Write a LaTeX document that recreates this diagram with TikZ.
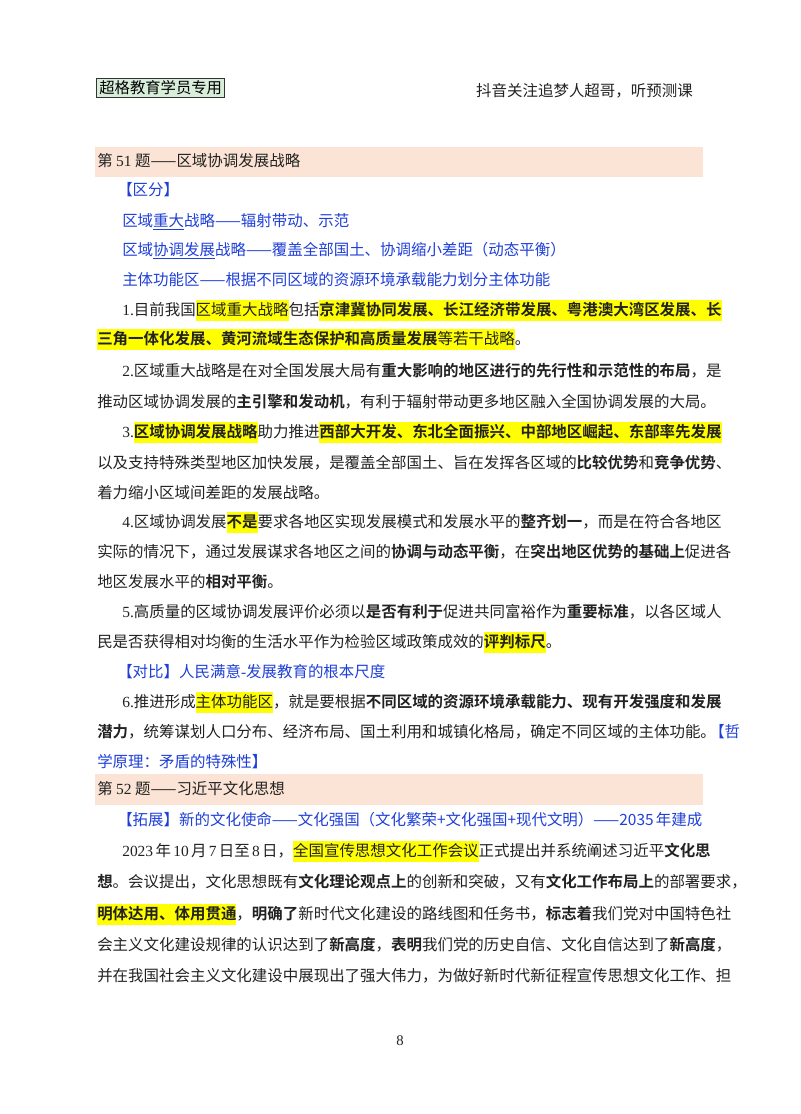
\documentclass[tikz,border=0pt]{standalone}
\usepackage{fontspec}
\setmainfont{Noto Sans CJK SC}[BoldFont={Noto Sans CJK SC Bold}]
\newfontfamily\lat{Liberation Serif}
\XeTeXlinebreaklocale "zh"
\XeTeXlinebreakskip=0pt plus 3pt minus 1pt
\definecolor{hly}{HTML}{FFFF00}
\definecolor{bl}{HTML}{1F3FD8}
\definecolor{pinkbar}{HTML}{FBE4D5}
\definecolor{greenbox}{HTML}{D8EEDB}
\definecolor{txt}{HTML}{222222}
\newcommand{\hl}[1]{\begingroup\fboxsep=0pt\colorbox{hly}{\vrule height 11pt depth 4.5pt width 0pt #1}\endgroup}
\newcommand{\fl}[2]{\hbox to #1pt{#2}}
\tikzset{
  ln/.style={anchor=base west,inner sep=0pt,font=\fontsize{11.6pt}{14pt}\selectfont,text=txt},
  bln/.style={ln,text=bl},
  bar/.style={fill=pinkbar,draw=none}
}
\begin{document}
\begin{tikzpicture}[x=0.75pt,y=-0.75pt]
\useasboundingbox[fill=white] (0,0) rectangle (800,1114);
% header
\node[draw=black!80,line width=1pt,fill=greenbox,inner sep=2pt,anchor=west,font=\fontsize{11.5pt}{13pt}\selectfont] (tag) at (96,88) {超格教育学员专用};
\node[ln,anchor=base east] (ad) at (693,96) {抖音关注追梦人超哥，听预测课};
% section 51
\fill[bar] (95,147) rectangle (703,177);
\node[ln] (h1) at (97,166) {第 {\lat 51} 题——区域协调发展战略};
\node[bln] (qf) at (117,195) {【区分】};
\node[bln] (b1) at (122,226) {区域\underline{重大}战略——辐射带动、示范};
\node[bln] (b2) at (122,255) {区域\underline{协调发展}战略——覆盖全部国土、协调缩小差距（动态平衡）};
\node[bln] (b3) at (122,285) {主体功能区——根据不同区域的资源环境承载能力划分主体功能};
\node[ln] (l1a) at (122,315) {\fl{435.75}{{\lat 1.}目前我国\hl{区域重大战略}包括\hl{\textbf{京津冀协同发展、长江经济带发展、粤港澳大湾区发展、长}}}};
\node[ln] (l1b) at (97,344) {\hl{\textbf{三角一体化发展、黄河流域生态保护和高质量发展}等若干战略}。};
\node[ln] (l2a) at (122,376) {\fl{435.75}{{\lat 2.}区域重大战略是在对全国发展大局有\textbf{重大影响的地区进行的先行性和示范性的布局}，是}};
\node[ln] (l2b) at (97,407) {推动区域协调发展的\textbf{主引擎和发动机}，有利于辐射带动更多地区融入全国协调发展的大局。};
\node[ln] (l3a) at (122,437) {\fl{435.75}{{\lat 3.}\hl{\textbf{区域协调发展战略}}助力推进\hl{\textbf{西部大开发、东北全面振兴、中部地区崛起、东部率先发展}}}};
\node[ln] (l3b) at (97,468) {\fl{454.5}{以及支持特殊类型地区加快发展，是覆盖全部国土、旨在发挥各区域的\textbf{比较优势}和\textbf{竞争优势}、}};
\node[ln] (l3c) at (97,498) {着力缩小区域间差距的发展战略。};
\node[ln] (l4a) at (122,527) {\fl{435.75}{{\lat 4.}区域协调发展\hl{\textbf{不是}}要求各地区实现发展模式和发展水平的\textbf{整齐划一}，而是在符合各地区}};
\node[ln] (l4b) at (97,557) {\fl{454.5}{实际的情况下，通过发展谋求各地区之间的\textbf{协调与动态平衡}，在\textbf{突出地区优势的基础上}促进各}};
\node[ln] (l4c) at (97,587) {地区发展水平的\textbf{相对平衡}。};
\node[ln] (l5a) at (122,617) {\fl{435.75}{{\lat 5.}高质量的区域协调发展评价必须以\textbf{是否有利于}促进共同富裕作为\textbf{重要标准}，以各区域人}};
\node[ln] (l5b) at (97,647) {民是否获得相对均衡的生活水平作为检验区域政策成效的\hl{\textbf{评判标尺}}。};
\node[bln] (db) at (117,677) {【对比】人民满意{\lat -}发展教育的根本尺度};
\node[ln] (l6a) at (122,707) {\fl{435.75}{{\lat 6.}推进形成\hl{主体功能区}，就是要根据\textbf{不同区域的资源环境承载能力、现有开发强度和发展}}};
\node[ln] (l6b) at (97,737) {\fl{454.5}{\textbf{潜力}，统筹谋划人口分布、经济布局、国土利用和城镇化格局，确定不同区域的主体功能。\hspace{-5pt}\textcolor{bl}{【哲}}};
\node[bln] (l6c) at (97,767) {学原理：矛盾的特殊性】};
% section 52
\fill[bar] (95,774) rectangle (703,805);
\node[ln] (h2) at (97,794) {第 {\lat 52} 题——习近平文化思想};
\node[bln] (tz) at (117,825) {\fl{435}{【拓展】新的文化使命——文化强国（文化繁荣+文化强国+现代文明）——2035 年建成}};
\node[ln] (p1) at (122,856) {\fl{435.75}{{\lat 2023} 年 {\lat 10} 月 {\lat 7} 日至 {\lat 8} 日，\hl{全国宣传思想文化工作会议}正式提出并系统阐述习近平\textbf{文化思}}};
\node[ln] (p2) at (97,887) {\fl{454.5}{\textbf{想}。会议提出，文化思想既有\textbf{文化理论观点上}的创新和突破，又有\textbf{文化工作布局上}的部署要求，}};
\node[ln] (p3) at (97,919) {\fl{454.5}{\hl{\textbf{明体达用、体用贯通}}，\textbf{明确了}新时代文化建设的路线图和任务书，\textbf{标志着}我们党对中国特色社}};
\node[ln] (p4) at (97,950) {\fl{454.5}{会主义文化建设规律的认识达到了\textbf{新高度}，\textbf{表明}我们党的历史自信、文化自信达到了\textbf{新高度}，}};
\node[ln] (p5) at (97,981) {\fl{454.5}{并在我国社会主义文化建设中展现出了强大伟力，为做好新时代新征程宣传思想文化工作、担}};
\node[ln,font=\lat\fontsize{11pt}{13pt}\selectfont] (pg) at (396,1045) {8};
\end{tikzpicture}
\end{document}
